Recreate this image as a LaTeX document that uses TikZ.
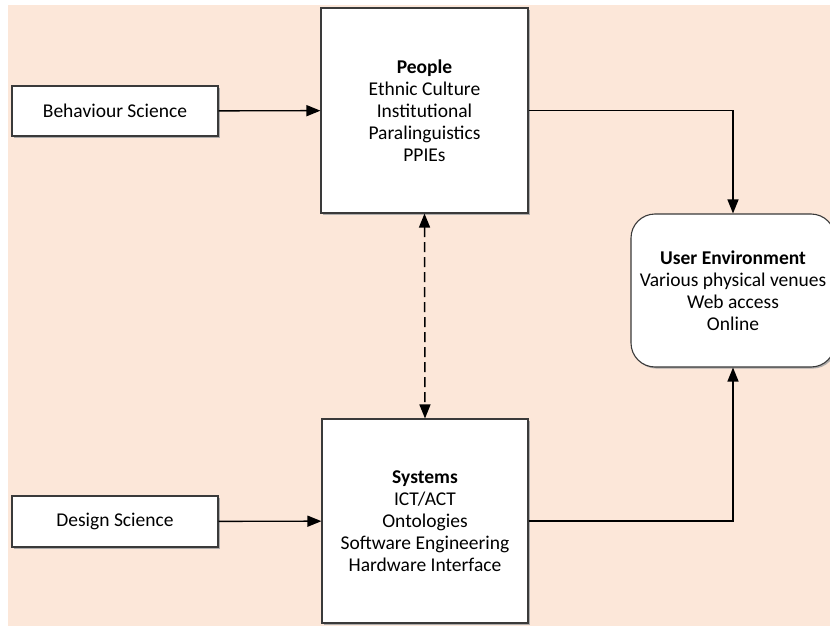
\documentclass[tikz,border=0pt]{standalone}
\usepackage{fontspec}
\setmainfont{Carlito}
\usetikzlibrary{arrows.meta,shadows}
\definecolor{peach}{HTML}{FCE7D9}
\definecolor{edge}{HTML}{3A3A3A}
\tikzset{
  box/.style={draw=edge, line width=1.1pt, fill=white, inner sep=0pt,
    align=center, font=\fontsize{19.5}{22}\selectfont,
    drop shadow={shadow xshift=1.6pt, shadow yshift=-1.6pt, fill=black!35, opacity=0.9}},
  tip/.tip={Triangle[length=14pt,width=11pt]},
  flow/.style={line width=1.4pt, -tip},
  link/.style={line width=1.5pt, dash pattern=on 10pt off 5pt, tip-tip}
}
\begin{document}
\begin{tikzpicture}[x=1pt,y=-1pt]
  \useasboundingbox (0,0) rectangle (830,626);
  \fill[peach] (8,5) rectangle (840,630);

  \node[box, minimum width=206pt, minimum height=50pt] (beh) at (115,111) {Behaviour Science};
  \node[box, minimum width=206pt, minimum height=51pt] (des) at (115,521.5) {Design Science};
  \node[box, minimum width=207pt, minimum height=205pt] (ppl) at (424.5,110.5)
    {\textbf{People}\\Ethnic Culture\\Institutional\\Paralinguistics\\PPIEs};
  \node[box, minimum width=206pt, minimum height=204pt] (sys) at (425,521)
    {\textbf{Systems}\\ICT/ACT\\Ontologies\\Software Engineering\\Hardware Interface};
  \node[box, rounded corners=24pt, minimum width=204pt, minimum height=153pt] (env) at (733,290.5)
    {\textbf{User Environment}\\Various physical venues\\Web access\\Online};

  \draw[flow] (beh) -- (ppl);
  \draw[flow] (des) -- (sys);
  \draw[flow] (ppl.east) -| (env.north);
  \draw[flow] (sys.east) -| (env.south);
  \draw[link] (ppl.south) -- (sys.north);
\end{tikzpicture}
\end{document}
